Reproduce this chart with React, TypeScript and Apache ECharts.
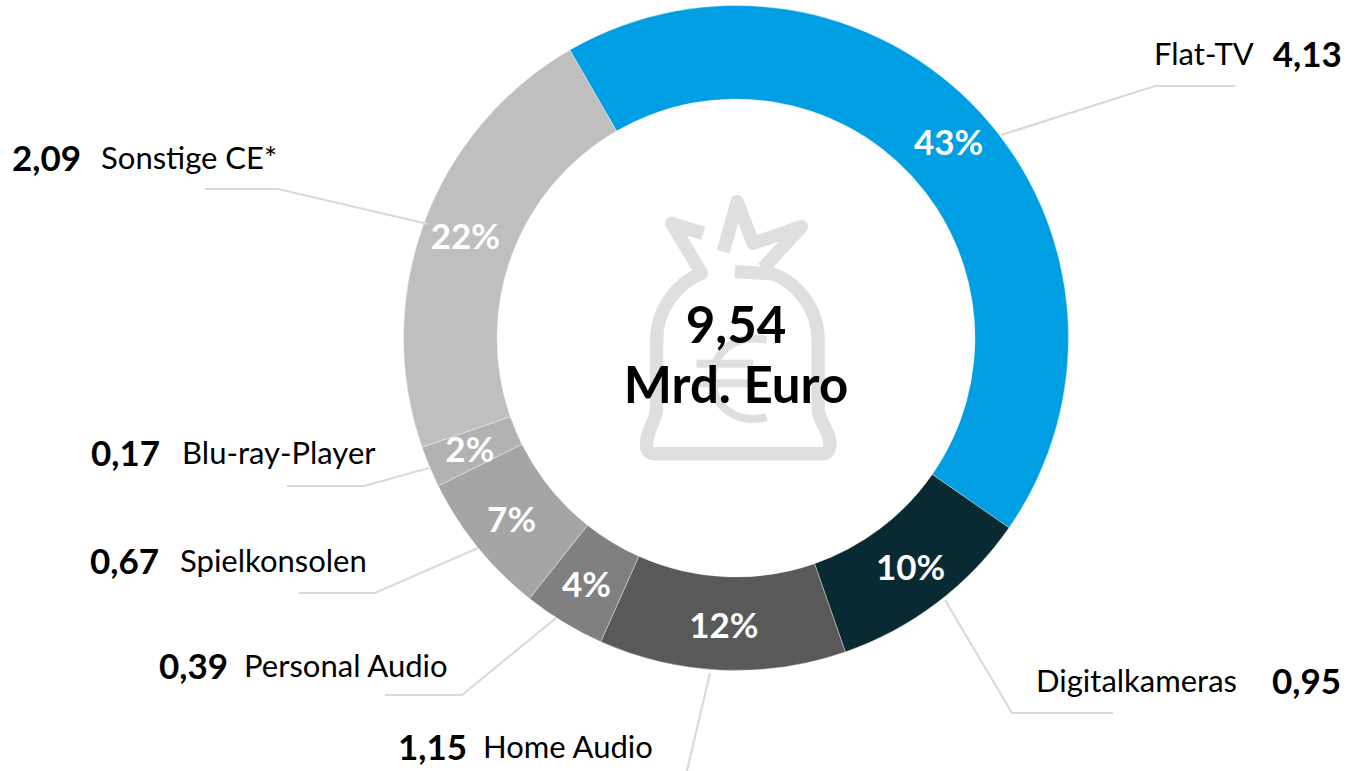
import React, { useEffect, useRef } from "react";
import * as echarts from "echarts";

const categories = ["Flat-TV", "Digitalkameras", "Home Audio", "Personal Audio", "Spielkonsolen", "Blu-ray-Player", "Sonstige CE*"];
const shares = [43, 10, 12, 4, 7, 2, 22];
const amounts = ["4,13", "0,95", "1,15", "0,39", "0,67", "0,17", "2,09"];
const colors = ["#009FE3", "#0A2A33", "#595959", "#808080", "#A5A5A5", "#B2B2B2", "#BFBFBF"];
const totalLines = ["9,54", "Mrd. Euro"];

const FONT = "Lato";
const CX = 736, CY = 338;

// label placement: left edge, vertical centre, whether the value comes first, leader line
const placement = [
  { x: 1154, y: 53, valueFirst: false, line: [[1001, 135], [1155, 86], [1235, 86]] },
  { x: 1036, y: 680, valueFirst: false, line: [[945, 600], [1012, 713], [1113, 713]] },
  { x: 398, y: 746, valueFirst: true, line: [[710, 673], [686, 775], [600, 775]] },
  { x: 159, y: 665, valueFirst: true, line: [[556, 618], [462, 695], [385, 695]] },
  { x: 90, y: 560, valueFirst: true, line: [[478, 548], [375, 593], [299, 593]] },
  { x: 91, y: 452, valueFirst: true, line: [[429, 468], [364, 486], [287, 486]] },
  { x: 12, y: 157, valueFirst: true, line: [[428, 224], [278, 189], [205, 189]] },
];

const gaps = [19, 35, 16, 16, 21, 22, 20];

const bagPath =
  "M250 160 L155 130 L245 280 C170 310 110 390 110 480 L110 690 C105 730 75 760 80 800 Q82 822 105 822 L605 822 Q628 822 630 800 C635 760 600 730 595 690 L595 480 C595 390 535 310 460 282 L345 275 " +
  "M310 215 L352 65 L400 190 L545 140 L430 265";
const euroPath =
  "M440 480 C340 460 278 520 278 600 C278 680 350 735 440 712 " +
  "M230 552 L400 552 M230 610 L400 610";

echarts.graphic.registerShape("moneyBag", echarts.graphic.extendPath(bagPath, {}));
echarts.graphic.registerShape("euroSign", echarts.graphic.extendPath(euroPath, {}));

export default function App() {
  const ref = useRef<HTMLDivElement>(null);
  useEffect(() => {
    const chart = echarts.init(ref.current!, null, { renderer: "svg" });
    const data = categories.map((name, i) => ({ name, value: shares[i] }));
    chart.setOption({
      animation: false,
      graphic: [
        {
          type: "moneyBag", x: 620, y: 180, scaleX: 1 / 3, scaleY: 1 / 3, z: 0, silent: true,
          style: { fill: "none", stroke: "#DFDFDF", lineWidth: 40, lineJoin: "round", lineCap: "butt" },
        },
        {
          type: "euroSign", x: 620, y: 180, scaleX: 1 / 3, scaleY: 1 / 3, z: 0, silent: true,
          style: { fill: "none", stroke: "#DFDFDF", lineWidth: 24, lineCap: "butt" },
        },
        {
          type: "text", x: CX, y: 323, z: 10, silent: true,
          style: { text: totalLines[0], fill: "#000", font: `bold 51px ${FONT}`, align: "center", verticalAlign: "middle" },
        },
        {
          type: "text", x: CX, y: 383, z: 10, silent: true,
          style: { text: totalLines[1], fill: "#000", font: `bold 51px ${FONT}`, align: "center", verticalAlign: "middle" },
        },
      ],
      series: [
        {
          type: "pie",
          center: [CX, CY],
          radius: [239, 332.5],
          startAngle: 120,
          z: 2,
          silent: true,
          data: data.map((d, i) => ({ ...d, itemStyle: { color: colors[i] } })),
          itemStyle: { borderColor: "rgba(255,255,255,0.35)", borderWidth: 1 },
          label: {
            show: true, position: "inside", formatter: "{c}%",
            color: "#fff", fontFamily: FONT, fontWeight: "bold", fontSize: 35,
          },
          labelLine: { show: false },
          labelLayout: { dy: -2 },
        },
        {
          type: "pie",
          center: [CX, CY],
          radius: [239, 332.5],
          startAngle: 120,
          z: 3,
          silent: true,
          data,
          itemStyle: { color: "transparent" },
          label: {
            show: true,
            position: "outside",
            formatter: (p: any) => {
              const v = `{v|${amounts[p.dataIndex]}}`;
              const n = `{n|${p.name}}`;
              const gap = `{g${p.dataIndex}|}`;
              return placement[p.dataIndex].valueFirst ? v + gap + n : n + gap + v;
            },
            rich: {
              v: { fontFamily: FONT, fontWeight: "bold", fontSize: 35, color: "#000" },
              n: { fontFamily: FONT, fontSize: 31, color: "#000" },
              ...Object.fromEntries(gaps.map((g, i) => [`g${i}`, { width: g }])),
            },
          },
          labelLine: { show: true, lineStyle: { color: "#DADADA", width: 2.2 } },
          labelLayout: (p: any) => {
            const c = placement[p.dataIndex];
            return { x: c.x, y: c.y, align: "left", verticalAlign: "middle", labelLinePoints: c.line };
          },
        },
      ],
    });
    return () => chart.dispose();
  }, []);
  return <div ref={ref} style={{ position: "absolute", left: 0, top: 0, width: 1347, height: 771 }} />;
}
